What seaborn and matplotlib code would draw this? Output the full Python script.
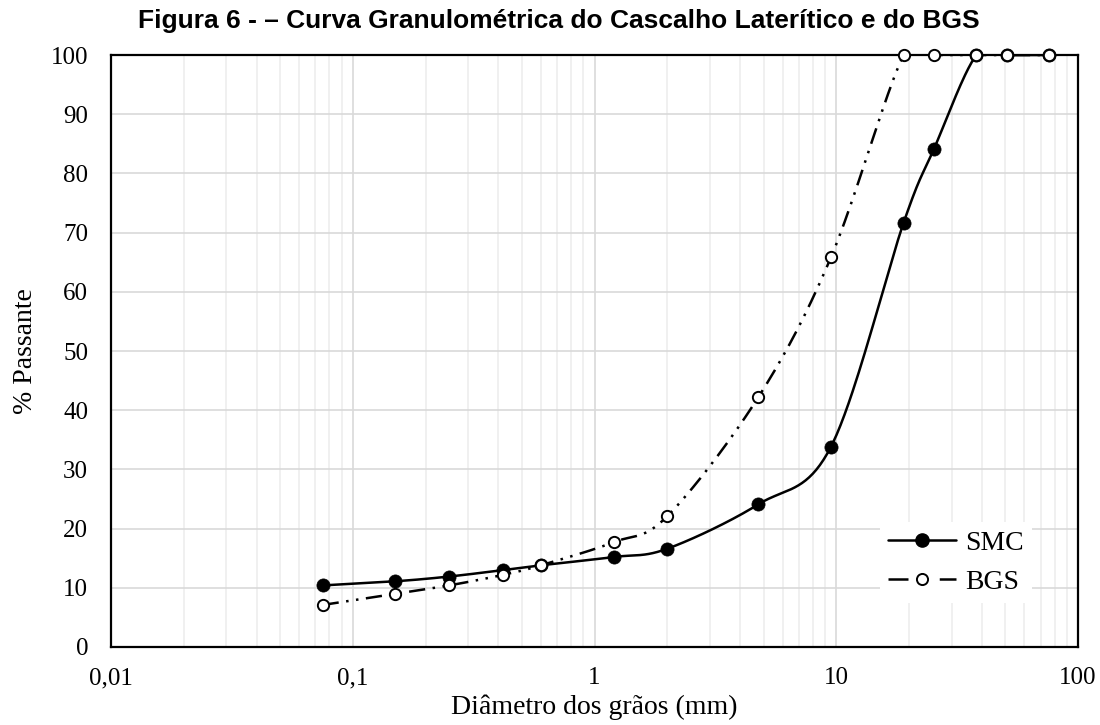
import numpy as np
import pandas as pd
import matplotlib
matplotlib.use("Agg")
import matplotlib.pyplot as plt
from matplotlib.lines import Line2D
import seaborn as sns

# Sieve openings (mm) and percent passing for each material
smc_diam = [0.075, 0.15, 0.25, 0.42, 0.6, 1.2, 2.0, 4.76, 9.5, 19.0, 25.4, 38.0, 50.8, 76.0]
smc_pass = [10.4, 11.1, 11.9, 13.0, 13.8, 15.2, 16.6, 24.1, 33.8, 71.7, 84.2, 100.0, 100.0, 100.0]

bgs_diam = [0.075, 0.15, 0.25, 0.42, 0.6, 1.2, 2.0, 4.76, 9.5, 19.0, 25.4, 38.0, 50.8, 76.0]
bgs_pass = [7.1, 9.0, 10.4, 12.2, 13.8, 17.7, 22.1, 42.2, 65.8, 100.0, 100.0, 100.0, 100.0, 100.0]

x_ticks = [0.01, 0.1, 1, 10, 100]
x_tick_labels = ["0,01", "0,1", "1", "10", "100"]
y_ticks = list(range(0, 101, 10))

title = "Figura 6 - \u2013 Curva Granulométrica do Cascalho Laterítico e do BGS"
x_label = "Diâmetro dos grãos (mm)"
y_label = "% Passante"

XMIN, XMAX, YMIN, YMAX = 0.01, 100, 0, 100

sns.set_theme(style="white")
plt.rcParams["font.family"] = ["Liberation Serif", "DejaVu Serif"]
plt.rcParams["text.color"] = "black"
plt.rcParams["axes.labelcolor"] = "black"

fig = plt.figure(figsize=(11, 7.25), dpi=100)
ax = fig.add_axes([0.101, 0.1076, 0.879, 0.8165])
ax.set_xscale("log")
ax.set_xlim(XMIN, XMAX)
ax.set_ylim(YMIN, YMAX)

fig_w_px = fig.get_figwidth() * fig.dpi
fig_h_px = fig.get_figheight() * fig.dpi
AX_W = ax.get_position().width * fig_w_px
AX_H = ax.get_position().height * fig_h_px


def smooth_curve(xs, ys, n=40):
    """Bezier smoothing (spreadsheet style) computed in screen proportions."""
    lx0, lx1 = np.log10(XMIN), np.log10(XMAX)
    u = (np.log10(xs) - lx0) / (lx1 - lx0) * AX_W
    v = (np.asarray(ys) - YMIN) / (YMAX - YMIN) * AX_H
    P = np.column_stack([u, v])
    t = np.linspace(0, 1, n)[:, None]
    out = []
    for i in range(len(P) - 1):
        p0 = P[i - 1] if i > 0 else P[i]
        p1, p2 = P[i], P[i + 1]
        p3 = P[i + 2] if i + 2 < len(P) else P[i + 1]
        c1 = p1 + (p2 - p0) / 6
        c2 = p2 - (p3 - p1) / 6
        seg = (1 - t) ** 3 * p1 + 3 * (1 - t) ** 2 * t * c1 + 3 * (1 - t) * t ** 2 * c2 + t ** 3 * p2
        out.append(seg if i == 0 else seg[1:])
    S = np.vstack(out)
    sx = 10 ** (S[:, 0] / AX_W * (lx1 - lx0) + lx0)
    sy = S[:, 1] / AX_H * (YMAX - YMIN) + YMIN
    return pd.DataFrame({"d": sx, "p": sy})


# Grid
ax.set_axisbelow(True)
ax.grid(which="major", axis="both", color="#d9d9d9", lw=1.2)
ax.grid(which="minor", axis="x", color="#eeeeee", lw=1.2)
ax.xaxis.set_minor_locator(matplotlib.ticker.LogLocator(base=10, subs=np.arange(2, 10)))
ax.xaxis.set_minor_formatter(matplotlib.ticker.NullFormatter())

dash_pat = (0, (6.5, 3, 1, 3, 1, 3))

# SMC curve and points
smc_curve = smooth_curve(smc_diam, smc_pass)
sns.lineplot(data=smc_curve, x="d", y="p", sort=False, estimator=None, ax=ax,
             color="black", lw=1.8, zorder=3)
sns.scatterplot(x=smc_diam, y=smc_pass, ax=ax, marker="o", s=90, color="black",
                edgecolor="black", linewidth=0.5, zorder=4, clip_on=False)

# BGS curve and points
bgs_curve = smooth_curve(bgs_diam, bgs_pass)
sns.lineplot(data=bgs_curve, x="d", y="p", sort=False, estimator=None, ax=ax,
             color="black", lw=1.8, linestyle=dash_pat, zorder=5)
sns.scatterplot(x=bgs_diam, y=bgs_pass, ax=ax, marker="o", s=66, facecolor="white",
                edgecolor="black", linewidth=1.4, zorder=6, clip_on=False)

# Axes styling
for side in ["left", "bottom", "top", "right"]:
    ax.spines[side].set_visible(True)
    ax.spines[side].set_color("black")
    ax.spines[side].set_linewidth(1.6)

ax.set_xticks(x_ticks)
ax.set_xticklabels(x_tick_labels)
ax.set_yticks(y_ticks)
ax.tick_params(axis="both", which="major", direction="inout", length=11, width=1.1,
               color="#404040", labelsize=18, labelcolor="black")
ax.tick_params(axis="x", which="major", pad=9, top=False)
ax.tick_params(axis="y", which="major", pad=11, right=False)
ax.tick_params(axis="x", which="minor", length=0)

ax.set_xlabel(x_label, fontsize=20, labelpad=4)
ax.set_ylabel(y_label, fontsize=20, labelpad=9)

fig.suptitle(title, x=0.508, y=0.988, fontsize=19, fontweight="bold", color="black",
             family=["Liberation Sans", "DejaVu Sans"])

handles = [
    Line2D([], [], color="black", lw=1.8, marker="o", markersize=9.5,
           markerfacecolor="black", markeredgecolor="black"),
    Line2D([], [], color="black", lw=1.8, linestyle=(0, (8, 12.5)), marker="o", markersize=8,
           markerfacecolor="white", markeredgecolor="black", markeredgewidth=1.4),
]
leg = ax.legend(handles, ["SMC", "BGS"], loc="upper left",
                bbox_to_anchor=(880 / fig_w_px, 1 - 522 / fig_h_px),
                bbox_transform=fig.transFigure, borderaxespad=0,
                fontsize=20, frameon=True, facecolor="white", edgecolor="none",
                framealpha=1, fancybox=False, handlelength=2.45, handletextpad=0.3,
                labelspacing=0.5, borderpad=0.3)
leg.set_zorder(7)

fig.savefig("out.png", dpi=100, facecolor="white")
